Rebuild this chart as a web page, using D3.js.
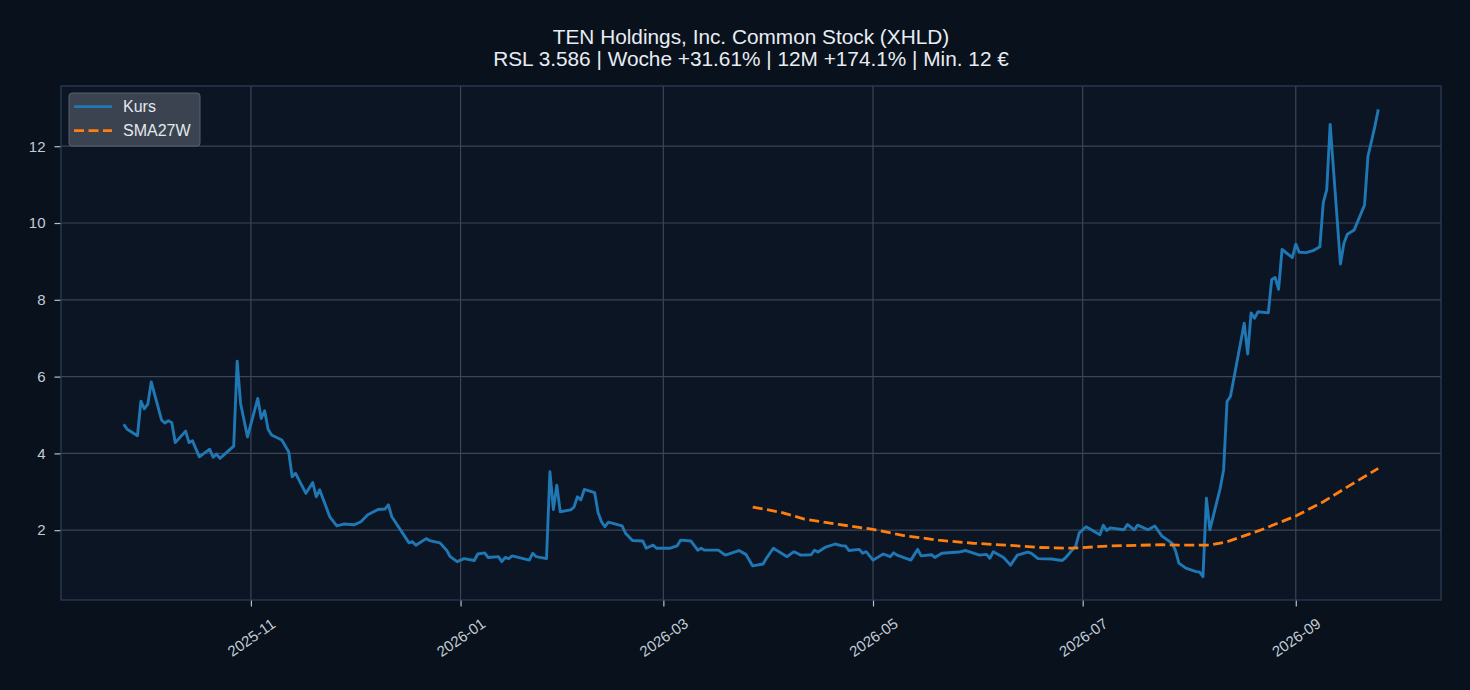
<!DOCTYPE html>
<html>
<head>
<meta charset="utf-8">
<script src="https://cdnjs.cloudflare.com/ajax/libs/d3/7.8.5/d3.min.js"></script>
<style>
html, body { margin: 0; padding: 0; background: #08111c; }
svg { display: block; font-family: "Liberation Sans", Arial, sans-serif; }
</style>
</head>
<body>
<div id="chart"></div>
<script>
// --- data ---
var titleLines = ["TEN Holdings, Inc. Common Stock (XHLD)",
	"RSL 3.586 | Woche +31.61% | 12M +174.1% | Min. 12 \u20AC"];

var kursDates = [
	"2025-09-25","2025-09-26","2025-09-29","2025-09-30","2025-10-01","2025-10-02","2025-10-03","2025-10-06","2025-10-07","2025-10-08",
	"2025-10-09","2025-10-10","2025-10-13","2025-10-14","2025-10-15","2025-10-17","2025-10-20","2025-10-21","2025-10-22","2025-10-23",
	"2025-10-27","2025-10-28","2025-10-29","2025-10-31","2025-11-03","2025-11-04","2025-11-05","2025-11-06","2025-11-07","2025-11-10",
	"2025-11-12","2025-11-13","2025-11-14","2025-11-17","2025-11-19","2025-11-20","2025-11-21","2025-11-24","2025-11-26","2025-11-28",
	"2025-12-01","2025-12-03","2025-12-05","2025-12-08","2025-12-10","2025-12-11","2025-12-12","2025-12-17","2025-12-18","2025-12-19",
	"2025-12-22","2025-12-23","2025-12-26","2025-12-28","2025-12-29","2025-12-31","2026-01-02","2026-01-05","2026-01-06","2026-01-08",
	"2026-01-09","2026-01-12","2026-01-13","2026-01-14","2026-01-15","2026-01-16","2026-01-21","2026-01-22","2026-01-23","2026-01-26",
	"2026-01-27","2026-01-28","2026-01-29","2026-01-30","2026-02-02","2026-02-03","2026-02-04","2026-02-05","2026-02-06","2026-02-09",
	"2026-02-10","2026-02-11","2026-02-12","2026-02-13","2026-02-17","2026-02-18","2026-02-20","2026-02-23","2026-02-24","2026-02-26",
	"2026-02-27","2026-03-03","2026-03-05","2026-03-06","2026-03-09","2026-03-11","2026-03-12","2026-03-13","2026-03-17","2026-03-19",
	"2026-03-23","2026-03-25","2026-03-27","2026-03-30","2026-03-31","2026-04-02","2026-04-06","2026-04-08","2026-04-10","2026-04-13",
	"2026-04-14","2026-04-15","2026-04-17","2026-04-20","2026-04-22","2026-04-23","2026-04-24","2026-04-27","2026-04-28","2026-04-29",
	"2026-05-01","2026-05-04","2026-05-06","2026-05-07","2026-05-08","2026-05-12","2026-05-14","2026-05-15","2026-05-18","2026-05-19",
	"2026-05-21","2026-05-26","2026-05-28","2026-06-01","2026-06-03","2026-06-04","2026-06-05","2026-06-08","2026-06-10","2026-06-12",
	"2026-06-15","2026-06-16","2026-06-18","2026-06-22","2026-06-25","2026-06-26","2026-06-29","2026-06-30","2026-07-02","2026-07-06",
	"2026-07-07","2026-07-08","2026-07-09","2026-07-13","2026-07-14","2026-07-16","2026-07-17","2026-07-20","2026-07-22","2026-07-24",
	"2026-07-27","2026-07-28","2026-07-29","2026-07-31","2026-08-03","2026-08-04","2026-08-05","2026-08-06","2026-08-07","2026-08-10",
	"2026-08-11","2026-08-12","2026-08-13","2026-08-14","2026-08-17","2026-08-18","2026-08-19","2026-08-20","2026-08-21","2026-08-24",
	"2026-08-25","2026-08-26","2026-08-27","2026-08-28","2026-08-31","2026-09-01","2026-09-02","2026-09-04","2026-09-06","2026-09-08",
	"2026-09-09","2026-09-10","2026-09-11","2026-09-14","2026-09-15","2026-09-16","2026-09-18","2026-09-21","2026-09-22","2026-09-24",
	"2026-09-25"
];
var kursValues = [
	4.76,4.63,4.46,5.36,5.16,5.28,5.86,4.87,4.79,4.85,
	4.80,4.28,4.58,4.28,4.33,3.91,4.11,3.90,3.98,3.87,
	4.19,6.40,5.30,4.43,5.43,4.91,5.11,4.63,4.48,4.35,
	4.04,3.39,3.48,2.96,3.24,2.87,3.05,2.34,2.11,2.16,
	2.14,2.22,2.40,2.54,2.55,2.66,2.35,1.67,1.70,1.61,
	1.78,1.73,1.67,1.47,1.31,1.18,1.26,1.21,1.38,1.41,
	1.29,1.31,1.18,1.29,1.26,1.33,1.22,1.40,1.31,1.26,
	3.52,2.54,3.17,2.48,2.53,2.60,2.87,2.79,3.06,2.98,
	2.46,2.22,2.09,2.21,2.11,1.92,1.73,1.72,1.53,1.61,
	1.53,1.53,1.59,1.74,1.72,1.48,1.53,1.48,1.48,1.35,
	1.47,1.37,1.07,1.12,1.27,1.53,1.31,1.44,1.35,1.36,
	1.48,1.43,1.55,1.64,1.59,1.59,1.47,1.50,1.40,1.44,
	1.22,1.38,1.31,1.41,1.35,1.22,1.50,1.33,1.36,1.29,
	1.40,1.43,1.47,1.35,1.37,1.27,1.44,1.29,1.09,1.35,
	1.43,1.40,1.26,1.25,1.21,1.28,1.59,1.93,2.09,1.88,
	2.13,1.99,2.06,2.01,2.15,2.01,2.13,2.01,2.11,1.85,
	1.66,1.47,1.14,1.01,0.92,0.91,0.79,2.83,2.01,3.09,
	3.57,5.35,5.49,5.96,7.39,6.59,7.66,7.52,7.69,7.66,
	8.53,8.58,8.27,9.31,9.10,9.45,9.24,9.23,9.28,9.38,
	10.53,10.86,12.57,8.93,9.47,9.71,9.82,10.47,11.74,12.51,
	12.96
];

var smaDates = ["2026-03-27","2026-04-04","2026-04-11","2026-04-21","2026-05-01","2026-05-10","2026-05-20","2026-05-30",
	"2026-06-09","2026-06-18","2026-06-28","2026-07-09","2026-07-24","2026-07-29","2026-08-07","2026-08-12","2026-08-22",
	"2026-09-01","2026-09-09","2026-09-17","2026-09-25"];
var smaValues = [2.60,2.47,2.29,2.15,2.02,1.86,1.74,1.66,
	1.61,1.55,1.53,1.59,1.62,1.61,1.61,1.70,2.01,
	2.37,2.74,3.18,3.61];

var yTicks = [2, 4, 6, 8, 10, 12];
var legendLabels = ["Kurs", "SMA27W"];

// --- layout ---
var W = 1470, H = 690;
var plot = { left: 61, right: 1441, top: 86, bottom: 600 };
var colors = { kurs: "#1f77b4", sma: "#ff7f0e" };
var parse = d3.timeParse("%Y-%m-%d");

var kurs = kursDates.map(function(d, i) { return { date: parse(d), value: kursValues[i] }; });
var sma = smaDates.map(function(d, i) { return { date: parse(d), value: smaValues[i] }; });

// matplotlib style 5% margins
var xExt = d3.extent(kurs, function(d) { return d.date; });
var xPad = (xExt[1] - xExt[0]) * 0.05;
var yExt = d3.extent(kurs, function(d) { return d.value; });
var yPad = (yExt[1] - yExt[0]) * 0.05;

var x = d3.scaleTime()
	.domain([new Date(+xExt[0] - xPad), new Date(+xExt[1] + xPad)])
	.range([plot.left, plot.right]);
var y = d3.scaleLinear()
	.domain([yExt[0] - yPad, yExt[1] + yPad])
	.range([plot.bottom, plot.top]);

var svg = d3.select("#chart").append("svg")
	.attr("width", W)
	.attr("height", H);

svg.append("rect").attr("width", W).attr("height", H).attr("fill", "#08111c");
svg.append("rect")
	.attr("x", plot.left).attr("y", plot.top)
	.attr("width", plot.right - plot.left).attr("height", plot.bottom - plot.top)
	.attr("fill", "#0b1524");

// grid
var xTicks = x.ticks(d3.timeMonth.every(2));
svg.append("g").selectAll("line").data(xTicks).enter().append("line")
	.attr("x1", function(d) { return x(d); }).attr("x2", function(d) { return x(d); })
	.attr("y1", plot.top).attr("y2", plot.bottom)
	.attr("stroke", "#3b4554").attr("stroke-width", 1.2);
svg.append("g").selectAll("line").data(yTicks).enter().append("line")
	.attr("x1", plot.left).attr("x2", plot.right)
	.attr("y1", function(d) { return y(d); }).attr("y2", function(d) { return y(d); })
	.attr("stroke", "#3b4554").attr("stroke-width", 1.2);

// axes
var xAxis = svg.append("g")
	.attr("transform", "translate(0," + plot.bottom + ")")
	.call(d3.axisBottom(x).tickValues(xTicks).tickFormat(d3.timeFormat("%Y-%m")).tickSize(6.5).tickPadding(4));
xAxis.select(".domain").remove();
xAxis.selectAll(".tick line").attr("stroke", "#b4c1d0").attr("stroke-width", 1.2);
xAxis.selectAll(".tick text")
	.attr("fill", "#c3ccd6")
	.style("font-size", "15px")
	.attr("text-anchor", "middle")
	.attr("y", 0)
	.attr("dy", "0.35em")
	.attr("transform", "translate(0,37.5) rotate(-35)");

var yAxis = svg.append("g")
	.attr("transform", "translate(" + plot.left + ",0)")
	.call(d3.axisLeft(y).tickValues(yTicks).tickSize(6.5).tickPadding(9));
yAxis.select(".domain").remove();
yAxis.selectAll(".tick line").attr("stroke", "#b4c1d0").attr("stroke-width", 1.2);
yAxis.selectAll(".tick text").attr("fill", "#c3ccd6").style("font-size", "15px");

// frame
svg.append("rect")
	.attr("x", plot.left).attr("y", plot.top)
	.attr("width", plot.right - plot.left).attr("height", plot.bottom - plot.top)
	.attr("fill", "none").attr("stroke", "#2c3d55").attr("stroke-width", 1.3);

// lines
var line = d3.line()
	.x(function(d) { return x(d.date); })
	.y(function(d) { return y(d.value); });

svg.append("path").datum(kurs)
	.attr("d", line)
	.attr("fill", "none")
	.attr("stroke", colors.kurs)
	.attr("stroke-width", 2.9)
	.attr("stroke-linejoin", "round");

svg.append("path").datum(sma)
	.attr("d", line)
	.attr("fill", "none")
	.attr("stroke", colors.sma)
	.attr("stroke-width", 2.8)
	.attr("stroke-dasharray", "10,4.5");

// title
svg.append("g").selectAll("text").data(titleLines).enter().append("text")
	.attr("x", (plot.left + plot.right) / 2)
	.attr("y", function(d, i) { return 43.5 + i * 22; })
	.attr("text-anchor", "middle")
	.attr("fill", "#e8edf3")
	.style("font-size", "20.8px")
	.text(function(d) { return d; });

// legend
var legend = svg.append("g").attr("transform", "translate(69,93)");
legend.append("rect")
	.attr("width", 131).attr("height", 53)
	.attr("rx", 3).attr("ry", 3)
	.attr("fill", "#3a434f")
	.attr("stroke", "#56606c").attr("stroke-width", 1);
var items = legend.selectAll(".item").data(legendLabels).enter().append("g")
	.attr("class", "item")
	.attr("transform", function(d, i) { return "translate(0," + (13.7 + i * 24) + ")"; });
items.append("line")
	.attr("x1", 5).attr("x2", 43).attr("y1", 0).attr("y2", 0)
	.attr("stroke", function(d, i) { return i === 0 ? colors.kurs : colors.sma; })
	.attr("stroke-width", 2.8)
	.attr("stroke-dasharray", function(d, i) { return i === 0 ? null : "10,4.5"; });
items.append("text")
	.attr("x", 54).attr("y", 0).attr("dy", "0.35em")
	.attr("fill", "#e3e8ee")
	.style("font-size", "16px")
	.text(function(d) { return d; });
</script>
</body>
</html>
